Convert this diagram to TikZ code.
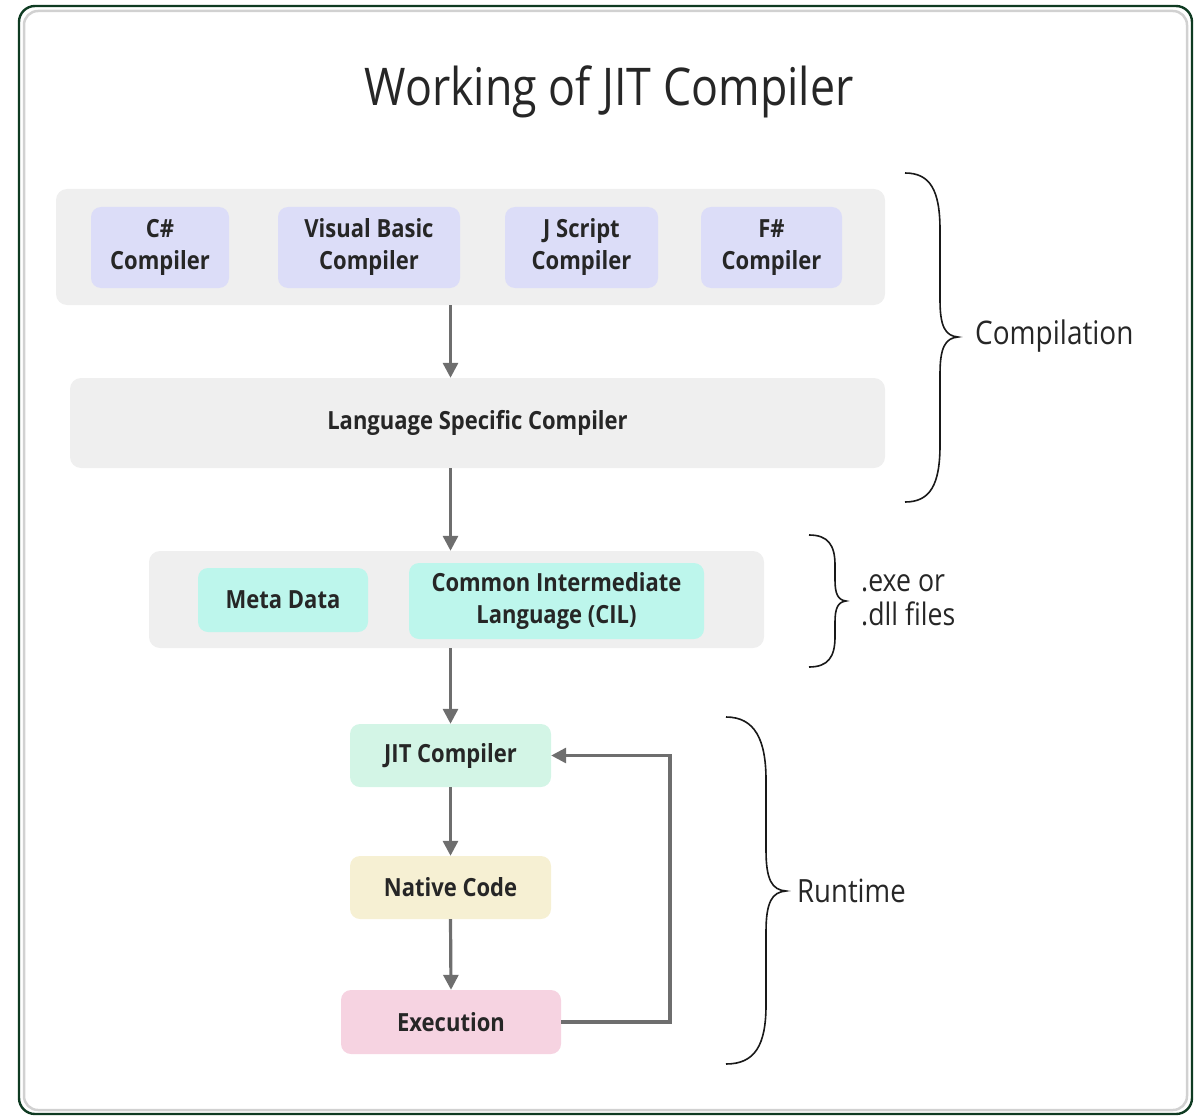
\documentclass[tikz,border=0pt]{standalone}
\usepackage{fontspec}
\setmainfont{Open Sans}[FakeStretch=0.86]
\newfontfamily\boxfont{Open Sans}[FakeStretch=0.88]
\usetikzlibrary{arrows.meta}
\definecolor{grpgray}{HTML}{EFEFEF}
\definecolor{lav}{HTML}{DCDDF8}
\definecolor{teal}{HTML}{BDF6EC}
\definecolor{jitfill}{HTML}{D3F5E6}
\definecolor{natfill}{HTML}{F6F0D3}
\definecolor{exefill}{HTML}{F6D3E1}
\definecolor{arrgray}{HTML}{6E6E6E}
\definecolor{txt}{HTML}{262626}
\definecolor{bordergreen}{HTML}{0F3B22}
\begin{document}
\begin{tikzpicture}[x=1pt,y=-1pt,
  grp/.style={fill=grpgray, rounded corners=11pt, draw=none, inner sep=0pt},
  box/.style={rounded corners=10pt, align=center, inner sep=0pt, text=txt,
    font=\boxfont\bfseries\fontsize{25}{32}\selectfont},
  arr/.style={draw=arrgray, line width=3.2pt, -{Triangle[length=15pt,width=15pt]}},
  bracestyle/.style={draw=black!90, line width=1.6pt},
  lbl/.style={anchor=west, text=black!85, align=left, inner sep=0pt,
    font=\fontsize{32.5}{34}\selectfont}
]
\useasboundingbox (0,0) rectangle (1204,1118);
% outer frame
\draw[black!18, line width=2.5pt, rounded corners=14pt] (24,11) rectangle (1187,1110);
\draw[bordergreen, line width=2.4pt, rounded corners=16pt] (19,6) rectangle (1192,1114);

% title
\node[text=black!85, inner sep=0pt, font=\fontsize{52}{60}\selectfont] (title) at (609,92) {Working of JIT Compiler};

% group 1
\node[grp, minimum width=829pt, minimum height=116pt] (g1) at (470.5,247) {};
\node[box, fill=lav, minimum width=138pt, minimum height=81pt] (cs) at (160,247.5) {C\#\\Compiler};
\node[box, fill=lav, minimum width=182pt, minimum height=81pt] (vb) at (369,247.5) {Visual Basic\\Compiler};
\node[box, fill=lav, minimum width=153pt, minimum height=81pt] (js) at (581.5,247.5) {J Script\\Compiler};
\node[box, fill=lav, minimum width=141pt, minimum height=81pt] (fs) at (771.5,247.5) {F\#\\Compiler};

% language specific compiler
\node[box, fill=grpgray, rounded corners=11pt, minimum width=815pt, minimum height=90pt] (lsc) at (477.5,423) {Language Specific Compiler};

% group 2
\node[grp, minimum width=615pt, minimum height=97pt] (g2) at (456.5,599.5) {};
\node[box, fill=teal, minimum width=170pt, minimum height=64pt] (md) at (283,600) {Meta Data};
\node[box, fill=teal, minimum width=295pt, minimum height=76pt] (cil) at (556.5,601) {Common Intermediate\\Language (CIL)};

% runtime boxes
\node[box, fill=jitfill, minimum width=201pt, minimum height=63pt] (jit) at (450.5,755.5) {JIT Compiler};
\node[box, fill=natfill, minimum width=201pt, minimum height=63pt] (nat) at (450.5,887.5) {Native Code};
\node[box, fill=exefill, minimum width=220pt, minimum height=64pt] (exe) at (451,1022) {Execution};

% arrows
\draw[arr] (g1.south -| jit) -- (lsc.north -| jit);
\draw[arr] (lsc.south -| jit) -- (g2.north -| jit);
\draw[arr] (g2.south -| jit) -- (jit.north);
\draw[arr] (jit.south) -- (nat.north);
\draw[arr] (nat.south) -- (exe.north);
\coordinate (fb) at (670,0);
\draw[arr] (exe.east) -- (fb |- exe.east) -- (fb |- jit.east) -- (jit.east);

% braces
\draw[bracestyle] (905,173) .. controls (930,173) and (940,190) .. (940,230) -- (940,300)
  .. controls (940,326) and (945,336) .. (958,337)
  .. controls (945,338) and (940,348) .. (940,374) -- (940,445)
  .. controls (940,485) and (930,502) .. (905,502);
\draw[bracestyle] (809,535) .. controls (828,535) and (835,545) .. (835,565) -- (835,580)
  .. controls (835,594) and (838,600) .. (846,601)
  .. controls (838,602) and (835,608) .. (835,622) -- (835,637)
  .. controls (835,657) and (828,667) .. (809,667);
\draw[bracestyle] (726,717) .. controls (755,717) and (766,740) .. (766,780) -- (766,850)
  .. controls (766,880) and (772,890) .. (786,891)
  .. controls (772,892) and (766,902) .. (766,932) -- (766,1005)
  .. controls (766,1045) and (755,1064) .. (726,1064);

% brace labels
\node[lbl] (comp) at (975,336) {Compilation};
\node[lbl, font=\fontsize{31}{34}\selectfont] (files) at (861,600) {.exe or\\.dll files};
\node[lbl, font=\fontsize{32}{34}\selectfont] (run) at (797,891) {Runtime};
\end{tikzpicture}
\end{document}
